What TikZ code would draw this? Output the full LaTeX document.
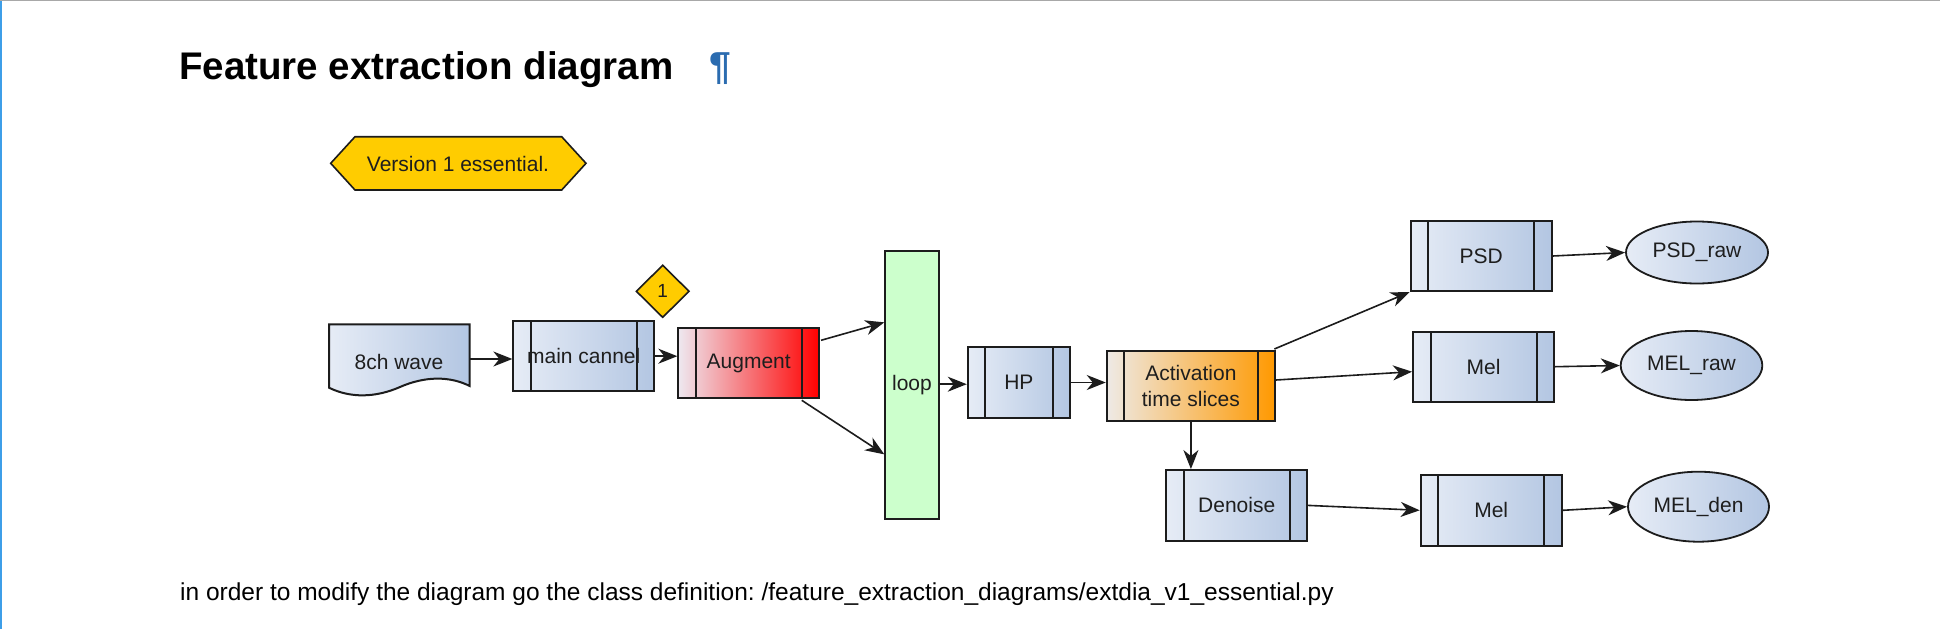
\documentclass[tikz,border=0pt]{standalone}
\usepackage{fontspec}
\setmainfont{Liberation Sans}
\usetikzlibrary{shapes.geometric,arrows.meta,calc}
\frenchspacing
\definecolor{bdr}{HTML}{1C1C1C}
\definecolor{txt}{HTML}{1E1E1E}
\definecolor{blA}{HTML}{E6ECF6}
\definecolor{blB}{HTML}{B3C6E2}
\definecolor{rdA}{HTML}{EEE8F0}
\definecolor{rdB}{HTML}{FF0000}
\definecolor{orA}{HTML}{EEEAE6}
\definecolor{orB}{HTML}{FF9900}
\definecolor{grn}{HTML}{CCFFCC}
\definecolor{gold}{HTML}{FFCC00}
\definecolor{link}{HTML}{2B6CB0}
\definecolor{topline}{HTML}{A8A8A8}
\definecolor{leftline}{HTML}{3D9EE8}
\tikzset{
  lbl/.style={font=\fontsize{21}{26}\selectfont, text=txt},
  subproc/.style={draw=bdr, line width=2pt, left color=blA, right color=blB,
    inner sep=0pt, lbl, align=center,
    path picture={\draw[bdr, line width=2pt]
      ([xshift=17.5pt]path picture bounding box.north west) -- ([xshift=17.5pt]path picture bounding box.south west)
      ([xshift=-17.5pt]path picture bounding box.north east) -- ([xshift=-17.5pt]path picture bounding box.south east);}},
  term/.style={ellipse, draw=bdr, line width=1.8pt, left color=blA, right color=blB, inner sep=0pt, lbl},
  conn/.style={draw=bdr, line width=1.6pt, -{Stealth[length=19pt,width=15pt,inset=6pt]}},
}
\begin{document}
\begin{tikzpicture}[x=1pt,y=-1pt]
\useasboundingbox (0,0) rectangle (1940,629);
\fill[white] (0,0) rectangle (1940,629);
\fill[leftline] (0,0) rectangle (1.5,629);
\fill[topline] (0,0) rectangle (1940,1.4);

% title and notes
\node[anchor=base west, inner sep=0pt, font=\fontsize{38.5}{46}\selectfont\bfseries] (title) at (179,79.3) {Feature extraction diagram};
\node[anchor=base west, inner sep=0pt, text=link, font=\fontsize{39}{46}\selectfont\bfseries] (pil) at (709,79.3) {¶};
\node[anchor=base west, inner sep=0pt, font=\fontsize{24.5}{30}\selectfont] (note) at (180,600) {in order to modify the diagram go the class definition: /feature\_extraction\_diagrams/extdia\_v1\_essential.py};

% version hexagon
\draw[draw=bdr, line width=1.6pt, fill=gold] (330.7,163.3) -- (355,136.7) -- (561.7,136.7) -- (586,163.3) -- (561.7,190) -- (355,190) -- cycle;
\node[anchor=base, inner sep=0pt, lbl] (ver) at (458,171.7) {Version 1 essential.};

% 8ch wave document shape
\node[minimum width=140.7pt, minimum height=63.4pt, inner sep=0pt] (wave) at (399.35,356) {};
\draw[draw=bdr, line width=2pt, left color=blA, right color=blB]
  (329,324.3) -- (469.7,324.3) -- (469.7,386)
  .. controls (450,376) and (425,376) .. (400,387)
  .. controls (375,398) and (350,398) .. (329,387.7) -- cycle;
\node[lbl, inner sep=0pt] (wavetxt) at (399,362) {8ch wave};

% main chain
\node[subproc, minimum width=140.7pt, minimum height=70.3pt] (main) at (583.7,356.2) {main cannel};
\node[diamond, draw=bdr, line width=1.6pt, fill=gold, minimum width=53.3pt, minimum height=52.7pt, inner sep=0pt, font=\fontsize{19}{22}\selectfont, text=txt] (mark) at (662.7,291.3) {1};
\node[subproc, left color=rdA, right color=rdB, minimum width=140.7pt, minimum height=70pt] (aug) at (748.7,363.3) {Augment};
\node[draw=bdr, line width=2pt, fill=grn, minimum width=53.4pt, minimum height=268.3pt, inner sep=0pt, lbl] (loop) at (912,385.2) {loop};
\node[subproc, minimum width=102.3pt, minimum height=70.4pt] (hp) at (1018.9,382.5) {HP};
\node[subproc, left color=orA, right color=orB, minimum width=168.3pt, minimum height=70pt] (act) at (1190.9,386) {Activation\\time slices};
\node[subproc, minimum width=140.7pt, minimum height=70.7pt] (den) at (1236.7,505.4) {Denoise};
\node[subproc, minimum width=141pt, minimum height=70pt] (psd) at (1481.2,256) {PSD};
\node[subproc, minimum width=141pt, minimum height=70pt] (melA) at (1483.5,366.7) {Mel};
\node[subproc, minimum width=141pt, minimum height=70.7pt] (melB) at (1491.2,510.3) {Mel};
\node[term, minimum width=142pt, minimum height=62pt] (psdraw) at (1697,252.5) {PSD\_raw};
\node[term, minimum width=141.6pt, minimum height=69pt] (melraw) at (1691.5,365.5) {MEL\_raw};
\node[term, minimum width=141pt, minimum height=70pt] (melden) at (1698.5,506.7) {MEL\_den};

% connectors
\draw[conn] ([yshift=-3pt]wave.east) -- ([yshift=-3pt]wave.east -| main.west);
\draw[conn] (main.east) -- (main.east -| aug.west);
\draw[conn] ($(aug.north east)+(1,13)$) -- ($(loop.north west)+(0,72.3)$);
\draw[conn] ($(aug.south east)+(-18.3,1)$) -- ($(loop.south west)+(0,-66)$);
\draw[conn] ([yshift=1pt]loop.east) -- ([yshift=1pt]loop.east -| hp.west);
\draw[conn] (hp.east) -- (hp.east -| act.west);
\draw[conn] (act.south) -- (act.south |- den.north);
\draw[conn] ($(act.north east)+(-1.7,-1)$) -- (psd.south west);
\draw[conn] ($(act.east)+(0,-6)$) -- ($(melA.west)+(0,5)$);
\draw[conn] (den.east) -- (melB.west);
\draw[conn] (psd.east) -- (psdraw.west);
\draw[conn] (melA.east) -- (melraw.west);
\draw[conn] (melB.east) -- (melden.west);
\end{tikzpicture}
\end{document}
